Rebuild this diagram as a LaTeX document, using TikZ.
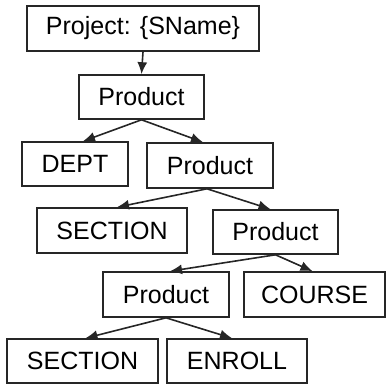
\documentclass[tikz,border=0pt]{standalone}
\usepackage{fontspec}
\setmainfont{Liberation Sans}
\usetikzlibrary{arrows.meta}
\usetikzlibrary{positioning}

\tikzset{
  opbox/.style={rectangle,draw=black!85,line width=1.6pt,fill=white,inner sep=0pt,font=\fontsize{25}{28}\selectfont},
  optree/.style={draw=black!85,line width=1.6pt,-{Latex[length=12pt,width=10pt]}}
}

\begin{document}
\begin{tikzpicture}[x=1pt,y=-1pt]
\useasboundingbox (0,0) rectangle (386,385);
\node[opbox,minimum width=232pt,minimum height=45pt] (proj) at (143,28.5) {Project: \{SName\}};
\node[opbox,minimum width=125pt,minimum height=44pt] (prodA) at (141.5,97) {Product};
\node[opbox,minimum width=106pt,minimum height=44pt] (dept) at (75,164) {DEPT};
\node[opbox,minimum width=126pt,minimum height=45pt] (prodB) at (210,165.5) {Product};
\node[opbox,minimum width=150pt,minimum height=45pt] (secA) at (112,230.5) {SECTION};
\node[opbox,minimum width=125pt,minimum height=44pt] (prodC) at (275.5,232) {Product};
\node[opbox,minimum width=126pt,minimum height=45pt] (prodD) at (166,294.5) {Product};
\node[opbox,minimum width=141pt,minimum height=45pt] (course) at (314.5,294.5) {COURSE};
\node[opbox,minimum width=151pt,minimum height=44pt] (secB) at (82.5,361) {SECTION};
\node[opbox,minimum width=140pt,minimum height=44pt] (enroll) at (237,361) {ENROLL};

\draw[optree] (proj.south) -- (prodA.north);
\draw[optree] (prodA.south) -- ([xshift=8pt]dept.north);
\draw[optree] (prodA.south) -- ([xshift=-7pt]prodB.north);
\draw[optree] ([xshift=-3pt]prodB.south) -- ([xshift=5pt]secA.north);
\draw[optree] ([xshift=-3pt]prodB.south) -- ([xshift=-5pt]prodC.north);
\draw[optree] (prodC.south) -- ([xshift=4pt]prodD.north);
\draw[optree] (prodC.south) -- ([xshift=-2pt]course.north);
\draw[optree] (prodD.south) -- ([xshift=3pt]secB.north);
\draw[optree] (prodD.south) -- ([xshift=-5pt]enroll.north);
\end{tikzpicture}
\end{document}
